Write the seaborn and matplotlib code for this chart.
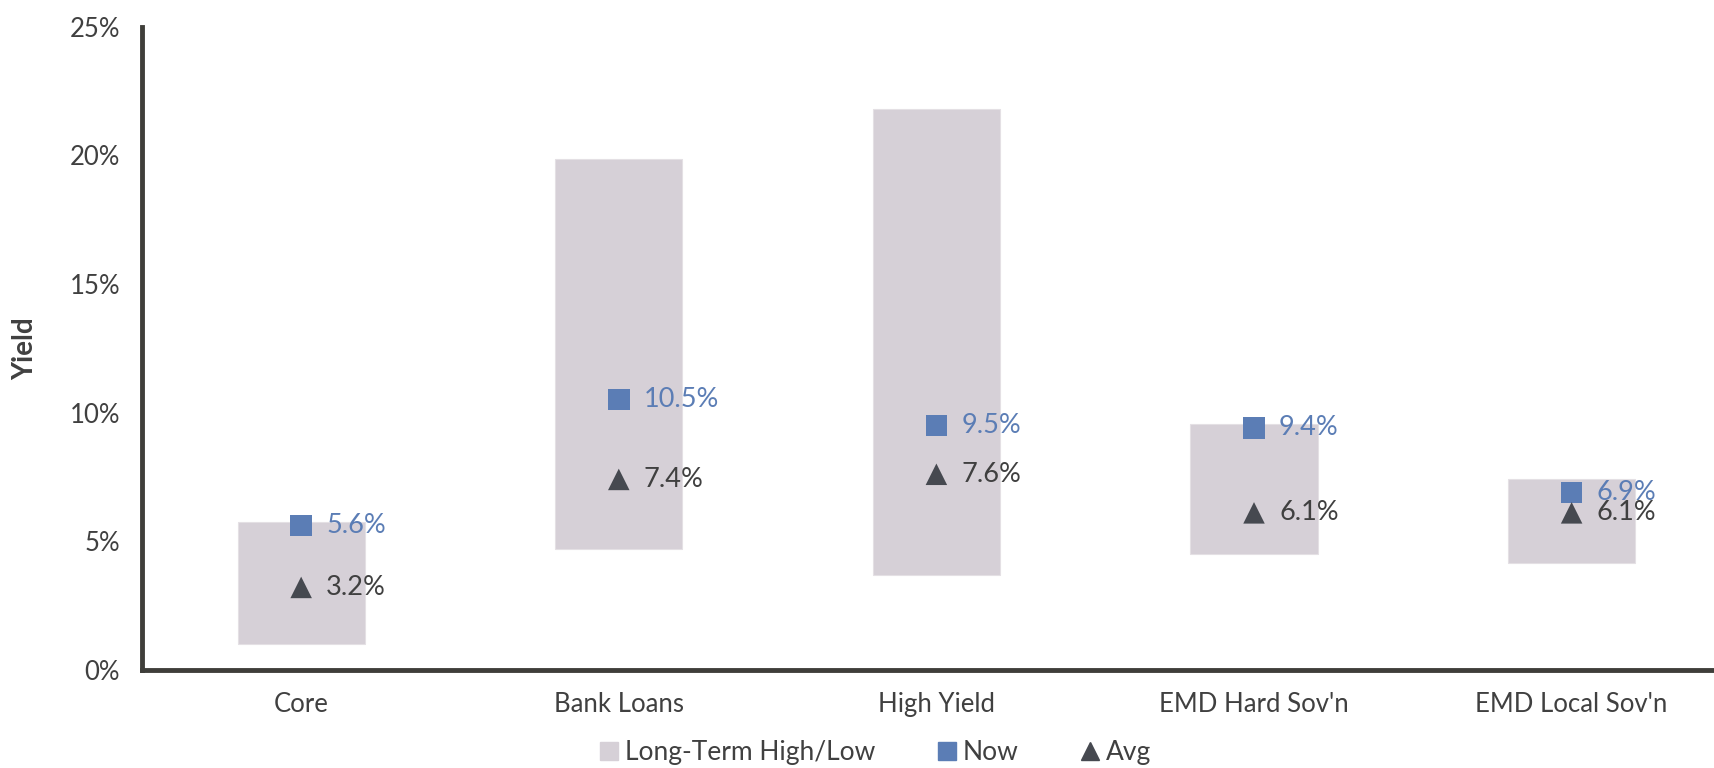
import matplotlib
matplotlib.use("Agg")
import matplotlib.pyplot as plt
import seaborn as sns
import pandas as pd
from matplotlib.lines import Line2D
from matplotlib.ticker import FuncFormatter

# Yield ranges by fixed-income sector
sectors = ["Core", "Bank Loans", "High Yield", "EMD Hard Sov'n", "EMD Local Sov'n"]
long_term_high = [5.75, 19.85, 21.8, 9.55, 7.4]
long_term_low = [1.0, 4.7, 3.7, 4.5, 4.15]
now_yield = [5.6, 10.5, 9.5, 9.4, 6.9]
avg_yield = [3.2, 7.4, 7.6, 6.1, 6.1]

range_color = "#D6D0D7"
now_color = "#5B7DB5"
avg_color = "#464950"
axis_color = "#3F3E3A"
text_color = "#404040"

sns.set_theme(style="white")
plt.rcParams["font.family"] = ["Lato", "DejaVu Sans"]

df = pd.DataFrame({
    "sector": sectors,
    "span": [h - l for h, l in zip(long_term_high, long_term_low)],
    "low": long_term_low,
    "now": now_yield,
    "avg": avg_yield,
})

fig = plt.figure(figsize=(17.15, 7.68), dpi=100)
ax = fig.add_axes([0.083, 0.128, 0.926, 0.837])

# Long-term high/low range drawn as floating bars
sns.barplot(data=df, x="sector", y="span", order=sectors, bottom=df["low"].values,
            color=range_color, saturation=1, width=0.4, errorbar=None, ax=ax,
            edgecolor="#E4E0E4", linewidth=0.8, zorder=1)

sns.scatterplot(data=df, x="sector", y="now", marker="s", s=240, color=now_color,
                edgecolor="none", ax=ax, zorder=3, legend=False)
sns.scatterplot(data=df, x="sector", y="avg", marker="^", s=240, color=avg_color,
                edgecolor="none", ax=ax, zorder=3, legend=False)

for i, (n, a) in enumerate(zip(now_yield, avg_yield)):
    ax.annotate(f"{n:.1f}%", (i, n), xytext=(18, 0), textcoords="offset points",
                va="center", ha="left", fontsize=19.5, color=now_color, zorder=4)
    ax.annotate(f"{a:.1f}%", (i, a), xytext=(18, 0), textcoords="offset points",
                va="center", ha="left", fontsize=19.5, color=text_color, zorder=4)

ax.set_ylim(0, 25)
ax.set_xlim(-0.5, 4.5)
ax.set_yticks([0, 5, 10, 15, 20, 25])
ax.yaxis.set_major_formatter(FuncFormatter(lambda v, _: f"{v:.0f}%"))
ax.set_xlabel("")
ax.set_ylabel("Yield", fontsize=20, fontweight="bold", color=text_color)
ax.yaxis.set_label_coords(-0.0655, 0.5)
ax.tick_params(axis="y", length=0, pad=16, labelsize=18.5, labelcolor=text_color)
ax.tick_params(axis="x", length=0, pad=16, labelsize=18.5, labelcolor=text_color)

sns.despine(ax=ax)
for side in ("left", "bottom"):
    ax.spines[side].set_color(axis_color)
    ax.spines[side].set_linewidth(3.5)
ax.spines["left"].set_capstyle("projecting")

handles = [
    Line2D([], [], marker="s", linestyle="none", markersize=13, color=range_color),
    Line2D([], [], marker="s", linestyle="none", markersize=13, color=now_color),
    Line2D([], [], marker="^", linestyle="none", markersize=13, color=avg_color),
]
fig.legend(handles, ["Long-Term High/Low", "Now", "Avg"], loc="center",
           bbox_to_anchor=(0.51, 0.02), ncol=3, frameon=False, fontsize=19,
           handlelength=0.8, handletextpad=0.2, columnspacing=2.3,
           labelcolor=text_color)

fig.savefig("out.png", dpi=100)
